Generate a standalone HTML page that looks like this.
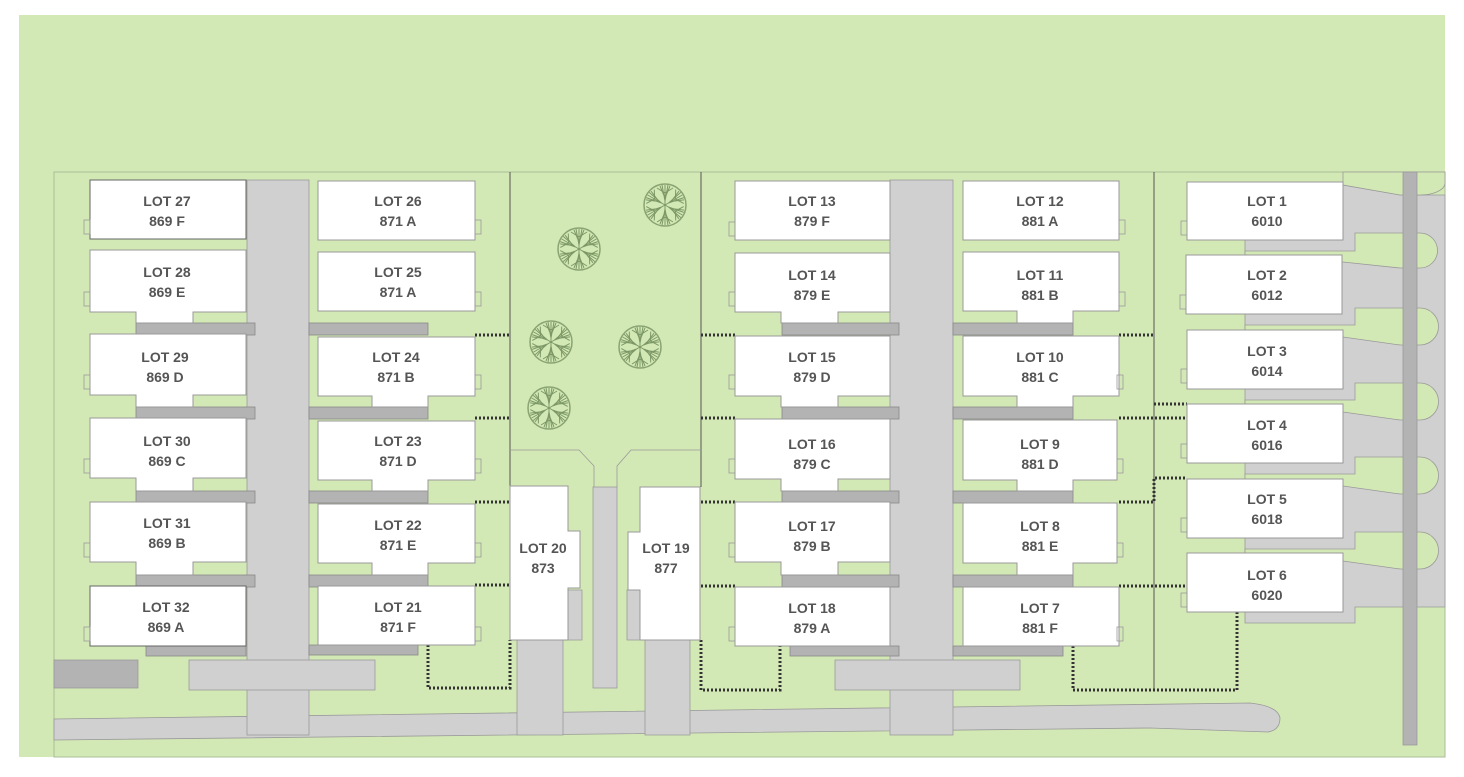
<!DOCTYPE html>
<html><head><meta charset="utf-8"><style>
html,body{margin:0;padding:0;background:#fff;}
svg text{font-family:"Liberation Sans",sans-serif;font-weight:bold;font-size:14px;fill:#555;text-anchor:middle;}
</style></head><body>
<svg width="1464" height="772" viewBox="0 0 1464 772" xmlns="http://www.w3.org/2000/svg">
<defs>
<g id="br"><path d="M0 0L0-20M0-7L-5-19M0-7L5-19M0-12L-8-17M0-12L8-17M0-4L-3-20M0-4L3-20"/></g>
<g id="tree">
<circle r="21" fill="#d3e9b5" stroke="#8aa373" stroke-width="1.5"/>
<g stroke="#7d9866" stroke-width="1" fill="none">
<use href="#br"/><use href="#br" transform="rotate(60)"/><use href="#br" transform="rotate(120)"/><use href="#br" transform="rotate(180)"/><use href="#br" transform="rotate(240)"/><use href="#br" transform="rotate(300)"/>
</g>
</g>
</defs>
<rect x="19" y="15" width="1426" height="742" fill="#d3e9b5"/>
<rect x="54" y="172" width="1391" height="585" fill="#d3e9b5" stroke="#a9bd98" stroke-width="1"/>
<!-- park -->
<path d="M510 172V487M701 172V487M1154 172V690" stroke="#555" stroke-width="1" fill="none"/>
<path d="M510 450H579L594 466V487M701 450H631L617 466V487" stroke="#999" stroke-width="0.8" fill="none"/>
<use href="#tree" x="665" y="205"/><use href="#tree" x="579" y="249"/><use href="#tree" x="551" y="342"/><use href="#tree" x="640" y="347"/><use href="#tree" x="549" y="408"/>
<g fill="#d0d0d0" stroke="#999" stroke-width="0.8">
<path d="M54 719L1250 703Q1278 706 1280 718Q1280 730 1268 732L1150 728L54 740Z"/>
<rect x="247" y="180" width="62" height="555"/>
<rect x="890" y="180" width="63" height="555"/>
<rect x="189" y="660" width="186" height="30"/>
<rect x="835" y="660" width="185" height="30"/>
<path d="M517 640H568V590H582V640H563V735H517Z"/>
<rect x="593" y="487" width="24" height="201"/>
<path d="M690 640H640V590H627V640H645V735H690Z"/>
<!-- right drives -->
<path d="M1343 185L1400 195H1445V607H1355V623H1245V240H1343Z"/>
</g>
<g fill="#d3e9b5" stroke="#999" stroke-width="0.8">
<path d="M1245 251H1355V233H1420A17.5 17.5 0 0 1 1420 268H1400L1343 262H1245Z"/>
<path d="M1245 325H1355V308H1420A18.5 18.5 0 0 1 1420 345H1400L1343 337H1245Z"/>
<path d="M1245 400H1355V383H1420A18.5 18.5 0 0 1 1420 420H1400L1343 412H1245Z"/>
<path d="M1245 474H1355V457H1420A18.5 18.5 0 0 1 1420 494H1400L1343 486H1245Z"/>
<path d="M1245 549H1355V532H1420A18.5 18.5 0 0 1 1420 569H1400L1343 561H1245Z"/>
<path d="M1343 172V185L1400 195H1420A25 12 0 0 0 1445 184V172Z"/>
</g>
<rect x="1403" y="172" width="14" height="573" fill="#b3b3b3" stroke="#999" stroke-width="0.8"/>
<rect x="54" y="660" width="84" height="28" fill="#b3b3b3" stroke="#999" stroke-width="0.8"/>
<!-- garage bars -->
<g fill="#b3b3b3" stroke="#888" stroke-width="0.8">
<rect x="136" y="323" width="119" height="12"/><rect x="136" y="407" width="119" height="12"/><rect x="136" y="491" width="119" height="12"/><rect x="136" y="575" width="119" height="12"/><rect x="146" y="646" width="100" height="10"/>
<rect x="309" y="323" width="119" height="12"/><rect x="309" y="407" width="119" height="12"/><rect x="309" y="491" width="119" height="12"/><rect x="309" y="575" width="119" height="12"/><rect x="309" y="645" width="109" height="10"/>
<rect x="782" y="323" width="117" height="12"/><rect x="782" y="407" width="117" height="12"/><rect x="782" y="491" width="117" height="12"/><rect x="782" y="575" width="117" height="12"/><rect x="790" y="646" width="109" height="10"/>
<rect x="953" y="323" width="120" height="12"/><rect x="953" y="407" width="120" height="12"/><rect x="953" y="491" width="120" height="12"/><rect x="953" y="575" width="120" height="12"/><rect x="953" y="646" width="110" height="10"/>
</g>
<!-- dotted -->
<g stroke="#333" stroke-width="3" stroke-dasharray="2 2" fill="none">
<path d="M475 335H510M475 418H510M475 502H510M475 585H510"/>
<path d="M428 645V688H510V640"/>
<path d="M701 335H735M701 418H735M701 502H735M701 586H735"/>
<path d="M701 640V690H780V646"/>
<path d="M1119 335H1154M1119 418H1187M1119 502H1154V478H1187M1119 586H1187"/>
<path d="M1073 646V690H1237V612"/>
<path d="M1154 404H1187"/>
</g>
<!-- lot boxes -->
<g fill="#fff" stroke="#999" stroke-width="1">
<rect x="90" y="180" width="156" height="59" stroke="#666"/>
<path d="M90 250H246V312H193V323H136V312H90Z"/>
<path d="M90 334H246V395H193V407H136V395H90Z"/>
<path d="M90 418H246V478H193V491H136V478H90Z"/>
<path d="M90 502H246V562H193V575H136V562H90Z"/>
<rect x="90" y="586" width="156" height="60" stroke="#666"/>
<rect x="318" y="181" width="157" height="59"/>
<path d="M318 252H475V311H318Z"/>
<path d="M318 337H475V396H428V407H372V396H318Z"/>
<path d="M318 421H475V480H428V491H372V480H318Z"/>
<path d="M318 504H475V563H428V575H372V563H318Z"/>
<rect x="318" y="586" width="157" height="59"/>
<rect x="735" y="181" width="155" height="59"/>
<path d="M735 253H890V312H838V323H781V312H735Z"/>
<path d="M735 336H890V396H838V407H781V396H735Z"/>
<path d="M735 419H890V479H838V491H781V479H735Z"/>
<path d="M735 502H890V562H838V575H781V562H735Z"/>
<rect x="735" y="587" width="155" height="59"/>
<rect x="963" y="181" width="156" height="59"/>
<path d="M963 252H1119V311H1073V323H1017V311H963Z"/>
<path d="M963 336H1119V396H1073V407H1017V396H963Z"/>
<path d="M963 420H1117V480H1073V491H1017V480H963Z"/>
<path d="M963 503H1117V563H1073V575H1017V563H963Z"/>
<rect x="963" y="587" width="156" height="59"/>
<rect x="1187" y="182" width="156" height="58"/>
<rect x="1186" y="255" width="156" height="59"/>
<rect x="1187" y="330" width="156" height="59"/>
<rect x="1187" y="404" width="156" height="59"/>
<rect x="1187" y="479" width="156" height="59"/>
<rect x="1187" y="553" width="156" height="59"/>
<path d="M510 486H568V531H580V588H568V640H510Z"/>
<path d="M640 487H700V640H640V590H628V532H640Z"/>
</g>
<!-- small tabs -->
<g fill="none" stroke="#999" stroke-width="0.8">
<rect x="84" y="220" width="6" height="14"/><rect x="84" y="292" width="6" height="14"/><rect x="84" y="375" width="6" height="14"/><rect x="84" y="459" width="6" height="14"/><rect x="84" y="543" width="6" height="14"/><rect x="84" y="627" width="6" height="14"/>
<rect x="475" y="220" width="6" height="14"/><rect x="475" y="292" width="6" height="14"/><rect x="475" y="375" width="6" height="14"/><rect x="475" y="459" width="6" height="14"/><rect x="475" y="543" width="6" height="14"/><rect x="475" y="627" width="6" height="14"/>
<rect x="729" y="222" width="6" height="14"/><rect x="729" y="292" width="6" height="14"/><rect x="729" y="375" width="6" height="14"/><rect x="729" y="459" width="6" height="14"/><rect x="729" y="543" width="6" height="14"/><rect x="729" y="627" width="6" height="14"/>
<rect x="1119" y="220" width="6" height="14"/><rect x="1119" y="292" width="6" height="14"/><rect x="1117" y="375" width="6" height="14"/><rect x="1117" y="459" width="6" height="14"/><rect x="1117" y="543" width="6" height="14"/><rect x="1117" y="627" width="6" height="14"/>
<rect x="1181" y="221" width="6" height="14"/><rect x="1180" y="295" width="6" height="14"/><rect x="1181" y="369" width="6" height="14"/><rect x="1181" y="444" width="6" height="14"/><rect x="1181" y="518" width="6" height="14"/><rect x="1181" y="593" width="6" height="14"/>
</g>
<!-- labels -->
<g>
<text x="167" y="206">LOT 27</text><text x="167" y="226">869 F</text>
<text x="167" y="277">LOT 28</text><text x="167" y="297">869 E</text>
<text x="165" y="362">LOT 29</text><text x="165" y="382">869 D</text>
<text x="167" y="446">LOT 30</text><text x="167" y="466">869 C</text>
<text x="167" y="528">LOT 31</text><text x="167" y="548">869 B</text>
<text x="166" y="612">LOT 32</text><text x="166" y="632">869 A</text>
<text x="398" y="206">LOT 26</text><text x="398" y="226">871 A</text>
<text x="398" y="277">LOT 25</text><text x="398" y="297">871 A</text>
<text x="396" y="362">LOT 24</text><text x="396" y="382">871 B</text>
<text x="398" y="446">LOT 23</text><text x="398" y="466">871 D</text>
<text x="398" y="530">LOT 22</text><text x="398" y="550">871 E</text>
<text x="398" y="612">LOT 21</text><text x="398" y="632">871 F</text>
<text x="543" y="553">LOT 20</text><text x="543" y="573">873</text>
<text x="666" y="553">LOT 19</text><text x="666" y="573">877</text>
<text x="812" y="206">LOT 13</text><text x="812" y="226">879 F</text>
<text x="812" y="280">LOT 14</text><text x="812" y="300">879 E</text>
<text x="812" y="362">LOT 15</text><text x="812" y="382">879 D</text>
<text x="812" y="449">LOT 16</text><text x="812" y="469">879 C</text>
<text x="812" y="531">LOT 17</text><text x="812" y="551">879 B</text>
<text x="812" y="613">LOT 18</text><text x="812" y="633">879 A</text>
<text x="1040" y="206">LOT 12</text><text x="1040" y="226">881 A</text>
<text x="1040" y="280">LOT 11</text><text x="1040" y="300">881 B</text>
<text x="1040" y="362">LOT 10</text><text x="1040" y="382">881 C</text>
<text x="1040" y="449">LOT 9</text><text x="1040" y="469">881 D</text>
<text x="1040" y="531">LOT 8</text><text x="1040" y="551">881 E</text>
<text x="1040" y="613">LOT 7</text><text x="1040" y="633">881 F</text>
<text x="1267" y="206">LOT 1</text><text x="1267" y="226">6010</text>
<text x="1267" y="280">LOT 2</text><text x="1267" y="300">6012</text>
<text x="1267" y="356">LOT 3</text><text x="1267" y="376">6014</text>
<text x="1267" y="430">LOT 4</text><text x="1267" y="450">6016</text>
<text x="1267" y="504">LOT 5</text><text x="1267" y="524">6018</text>
<text x="1267" y="580">LOT 6</text><text x="1267" y="600">6020</text>
</g>
</svg>
</body></html>
